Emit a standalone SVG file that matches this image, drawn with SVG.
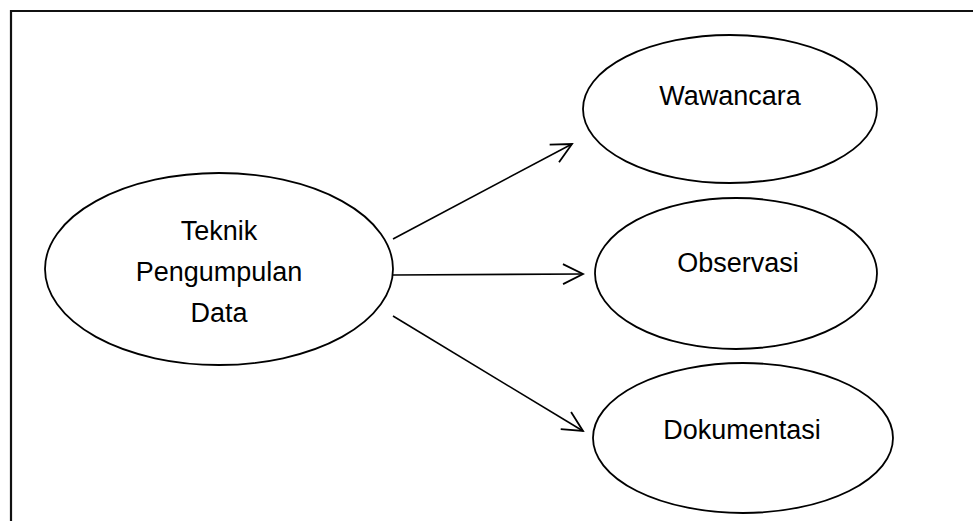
<svg xmlns="http://www.w3.org/2000/svg" width="973" height="521" viewBox="0 0 973 521">
  <style>
    .node ellipse { fill: #ffffff; stroke: #000000; stroke-width: 1.8; }
    .node text { font-family: "Liberation Sans", Arial, sans-serif; font-size: 27px; fill: #000000; text-anchor: middle; }
    .edge { stroke: #000000; stroke-width: 1.6; fill: none; marker-end: url(#arrow); }
  </style>
  <defs>
    <marker id="arrow" markerUnits="userSpaceOnUse" markerWidth="24" markerHeight="24" viewBox="-22 -12 24 24" refX="0" refY="0" orient="auto">
      <path d="M-20,-10 L0,0 L-20,10" fill="none" stroke="#000000" stroke-width="1.8" stroke-linejoin="miter"/>
    </marker>
  </defs>

  <rect width="973" height="521" fill="#ffffff"/>
  <!-- frame: only the left and top edges fall inside the page -->
  <path d="M11,521 V11 H973" fill="none" stroke="#111111" stroke-width="2.2"/>

  <g id="edges">
    <line class="edge" x1="393" y1="239" x2="572" y2="144"/>
    <line class="edge" x1="393" y1="275" x2="583" y2="274"/>
    <line class="edge" x1="393" y1="316" x2="583" y2="431"/>
  </g>

  <g id="teknik" class="node">
    <ellipse cx="219" cy="269" rx="174" ry="96"/>
    <text x="219" y="240">Teknik</text>
    <text x="219" y="281">Pengumpulan</text>
    <text x="219" y="322">Data</text>
  </g>

  <g id="wawancara" class="node">
    <ellipse cx="730" cy="109" rx="147" ry="74"/>
    <text x="730" y="105">Wawancara</text>
  </g>

  <g id="observasi" class="node">
    <ellipse cx="736" cy="273.5" rx="141" ry="75.5"/>
    <text x="738" y="272">Observasi</text>
  </g>

  <g id="dokumentasi" class="node">
    <ellipse cx="743" cy="438" rx="150" ry="75"/>
    <text x="742" y="439">Dokumentasi</text>
  </g>
</svg>
